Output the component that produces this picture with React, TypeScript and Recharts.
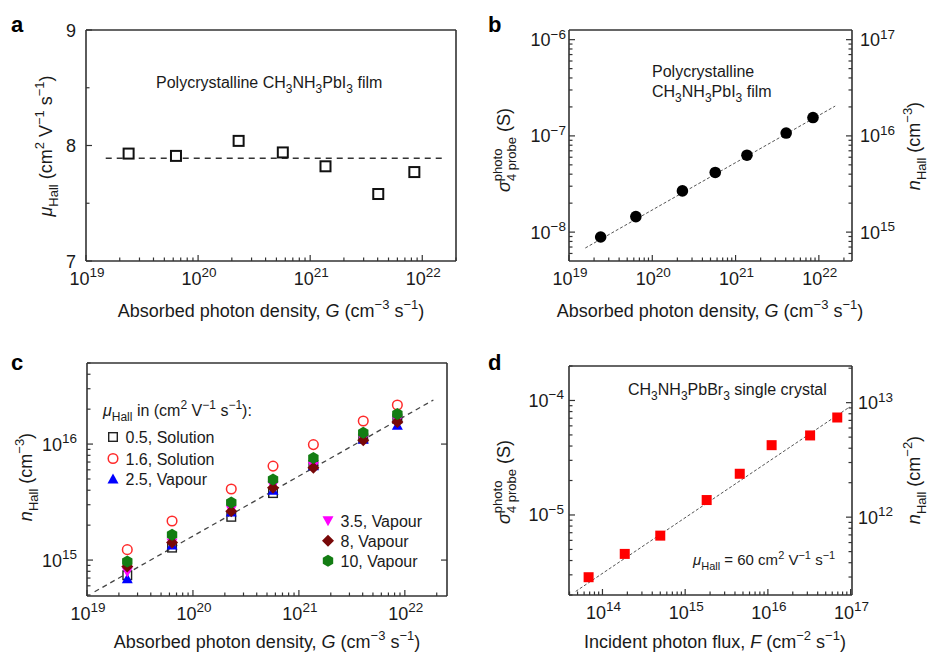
import React from 'react';
import { ScatterChart, Scatter, XAxis, YAxis, ReferenceLine } from 'recharts';

const FONT = '"Liberation Sans", Arial, Helvetica, sans-serif';
const INK = '#1a1a1a';
const FRAME = '#333';

// absorbed photon density G (cm^-3 s^-1), same excitation steps in a, b, c
const G = [2.4e19, 6.35e19, 2.3e20, 5.7e20, 1.37e21, 4.05e21, 8.5e21];

// a: Hall mobility of the film
const muHall = [7.93, 7.91, 8.04, 7.94, 7.82, 7.58, 7.77];
const muFitG = [1.5e19, 1.55e22];
const muFit = 7.89;

// b: four-probe photoconductivity of the film
const sigmaFilm = [8.9e-9, 1.45e-8, 2.68e-8, 4.17e-8, 6.3e-8, 1.07e-7, 1.55e-7];
const sigmaFitG = [1.57e19, 1.57e22];
const sigmaFit = [6.84e-9, 2.04e-7];

// c: Hall carrier density for the six films
const n05 = [7.4e14, 1.28e15, 2.36e15, 3.78e15, 6.6e15, 1.12e16, 1.66e16];
const n16 = [1.23e15, 2.17e15, 4.1e15, 6.46e15, 9.9e15, 1.58e16, 2.17e16];
const n25 = [6.9e14, 1.35e15, 2.6e15, 4.0e15, 6.5e15, 1.1e16, 1.45e16];
const n35 = [7.9e14, 1.4e15, 2.7e15, 4.35e15, 6.4e15, 1.1e16, 1.6e16];
const n8 = [8.8e14, 1.42e15, 2.63e15, 4.2e15, 6.25e15, 1.08e16, 1.55e16];
const n10 = [9.7e14, 1.65e15, 3.14e15, 4.96e15, 7.6e15, 1.25e16, 1.82e16];
const nFitG = [1.18e19, 1.86e22];
const nFit = [5.33e14, 2.4e16];
const legendC = ['0.5, Solution', '1.6, Solution', '2.5, Vapour', '3.5, Vapour', '8, Vapour', '10, Vapour'];

// d: single crystal vs incident photon flux F (cm^-2 s^-1)
const F = [6.8e13, 1.86e14, 5.0e14, 1.82e15, 4.57e15, 1.11e16, 3.24e16, 6.9e16];
const sigmaCrystal = [2.86e-6, 4.57e-6, 6.6e-6, 1.35e-5, 2.29e-5, 4.07e-5, 4.95e-5, 7.1e-5];
const crystalFitF = [4.75e13, 9.8e16];
const crystalFit = [2.15e-6, 8.8e-5];

// axis ranges
const A_X: [number, number] = [1e19, 2e22];
const A_Y: [number, number] = [7, 9];
const A_YTICKS = [7, 7.5, 8, 8.5, 9];
const B_X: [number, number] = [1e19, 2.5e22];
const B_Y: [number, number] = [5.01e-9, 1.26e-6];
const B_R: [number, number] = [5.01e14, 1.26e17];
const C_X: [number, number] = [1e19, 2.5e22];
const C_Y: [number, number] = [4.9e14, 5.0e16];
const C_RTICKS = [1e15, 1e16];
const D_X: [number, number] = [3.94e13, 1.04e17];
const D_Y: [number, number] = [2.0e-6, 2.0e-4];
const D_R: [number, number] = [2.09e11, 2.09e13];

function logTicks([lo, hi]: [number, number]) {
  const out: number[] = [];
  for (let e = Math.floor(Math.log10(lo)); e <= Math.ceil(Math.log10(hi)); e++) {
    for (let m = 1; m < 10; m++) {
      const v = m * Math.pow(10, e);
      if (v >= lo * 0.999 && v <= hi * 1.001) out.push(v);
    }
  }
  return out;
}

const isDecade = (v: number) => Math.abs(Math.log10(v) - Math.round(Math.log10(v))) < 1e-6;

type Part = { t: string; k?: 'sub' | 'sup'; i?: boolean; dx?: number };

function rich(parts: Part[], size = 16, small = Math.round(size * 0.72)) {
  let cur = 0;
  return parts.map((p, idx) => {
    const target = p.k === 'sub' ? size * 0.32 : p.k === 'sup' ? -size * 0.42 : 0;
    const dy = target - cur;
    cur = target;
    return (
      <tspan key={idx} dy={dy || undefined} dx={p.dx} fontSize={p.k ? small : size}
        fontStyle={p.i ? 'italic' : undefined}>{p.t}</tspan>
    );
  });
}

function Txt({ x, y, parts, size = 16, small, anchor = 'start', rotate = false }: any) {
  return (
    <text x={rotate ? 0 : x} y={rotate ? 0 : y}
      transform={rotate ? `translate(${x},${y}) rotate(-90)` : undefined}
      textAnchor={anchor} fontFamily={FONT} fill={INK} fontSize={size}
      style={{ whiteSpace: 'pre' }}>
      {rich(parts, size, small)}
    </text>
  );
}

const pow10 = (v: number): Part[] => {
  const e = Math.round(Math.log10(v));
  return [{ t: '10' }, { t: e < 0 ? '\u2212' + Math.abs(e) : String(e), k: 'sup' }];
};

function AxisTick({ x, y, payload, side, gap = 8, major = isDecade, label = pow10, noLabel }: any) {
  const v = payload.value;
  const big = major(v);
  const len = big ? 6 : 3.5;
  let line;
  let txt = null;
  if (side === 'bottom') {
    line = <line x1={x} y1={y} x2={x} y2={y - len} stroke={FRAME} strokeWidth={1.2} />;
    if (big && !noLabel) txt = <Txt x={x + 1} y={y + 24} parts={label(v)} size={18} small={13.5} anchor="middle" />;
  } else if (side === 'left') {
    line = <line x1={x} y1={y} x2={x + len} y2={y} stroke={FRAME} strokeWidth={1.2} />;
    if (big && !noLabel) txt = <Txt x={x - gap} y={y + 6.5} parts={label(v)} size={18} small={13.5} anchor="end" />;
  } else {
    line = <line x1={x} y1={y} x2={x - len} y2={y} stroke={FRAME} strokeWidth={1.2} />;
    if (big && !noLabel) txt = <Txt x={x + gap} y={y + 6.5} parts={label(v)} size={18} small={13.5} anchor="start" />;
  }
  return <g>{line}{txt}</g>;
}

function marker(kind: string, cx: number, cy: number) {
  switch (kind) {
    case 'sqA':
      return <rect x={cx - 5} y={cy - 5} width={10} height={10} fill="#fff" stroke="#111" strokeWidth={2} />;
    case 'dotB':
      return <circle cx={cx} cy={cy} r={5.8} fill="#000" />;
    case 'sqC':
      return <rect x={cx - 4.3} y={cy - 4.3} width={8.6} height={8.6} fill="none" stroke="#222" strokeWidth={1.4} />;
    case 'circC':
      return <circle cx={cx} cy={cy} r={4.8} fill="none" stroke="#ff2a2a" strokeWidth={1.5} />;
    case 'triUp':
      return <polygon points={`${cx},${cy - 5.5} ${cx + 5.5},${cy + 4.5} ${cx - 5.5},${cy + 4.5}`} fill="#0000ff" />;
    case 'triDown':
      return <polygon points={`${cx - 5.5},${cy - 4.5} ${cx + 5.5},${cy - 4.5} ${cx},${cy + 5.5}`} fill="#ff00ff" />;
    case 'diamond':
      return <polygon points={`${cx},${cy - 6} ${cx + 6},${cy} ${cx},${cy + 6} ${cx - 6},${cy}`} fill="#780808" />;
    case 'hex': {
      const pts = [0, 1, 2, 3, 4, 5].map((k) => {
        const a = Math.PI / 2 + (k * Math.PI) / 3;
        return `${cx + 6 * Math.cos(a)},${cy - 6 * Math.sin(a)}`;
      });
      return <polygon points={pts.join(' ')} fill="#137d13" />;
    }
    case 'sqD':
      return <rect x={cx - 5} y={cy - 5} width={10} height={10} fill="#ff0000" />;
    default:
      return <circle cx={cx} cy={cy} r={3} />;
  }
}

const shapeOf = (kind: string) => (p: any) => marker(kind, p.cx, p.cy);
const frame = { stroke: FRAME, strokeWidth: 1.6 };
const NOM = { top: 0, right: 0, bottom: 0, left: 0 };

const unitsG: Part[] = [{ t: 'Absorbed photon density, ' }, { t: 'G', i: true }, { t: ' (cm' }, { t: '\u22123', k: 'sup' }, { t: ' s' }, { t: '\u22121', k: 'sup' }, { t: ')' }];
const muAxis: Part[] = [{ t: 'μ', i: true }, { t: 'Hall', k: 'sub' }, { t: ' (cm' }, { t: '2', k: 'sup' }, { t: ' V' }, { t: '\u22121', k: 'sup' }, { t: ' s' }, { t: '\u22121', k: 'sup' }, { t: ')' }];
const filmLabel: Part[] = [{ t: 'Polycrystalline CH' }, { t: '3', k: 'sub' }, { t: 'NH' }, { t: '3', k: 'sub' }, { t: 'PbI' }, { t: '3', k: 'sub' }, { t: ' film' }];
const filmLabel2: Part[] = [{ t: 'CH' }, { t: '3', k: 'sub' }, { t: 'NH' }, { t: '3', k: 'sub' }, { t: 'PbI' }, { t: '3', k: 'sub' }, { t: ' film' }];
const sigmaAxis: Part[] = [{ t: 'σ', i: true }, { t: 'photo', k: 'sup' }, { t: '4 probe', k: 'sub', dx: -32.5 }, { t: ' (S)' }];
const nAxis3: Part[] = [{ t: 'n', i: true }, { t: 'Hall', k: 'sub' }, { t: ' (cm' }, { t: '\u22123', k: 'sup' }, { t: ')' }];
const nAxis2: Part[] = [{ t: 'n', i: true }, { t: 'Hall', k: 'sub' }, { t: ' (cm' }, { t: '\u22122', k: 'sup' }, { t: ')' }];
const fluxAxis: Part[] = [{ t: 'Incident photon flux, ' }, { t: 'F', i: true }, { t: ' (cm' }, { t: '\u22122', k: 'sup' }, { t: ' s' }, { t: '\u22121', k: 'sup' }, { t: ')' }];
const crystalLabel: Part[] = [{ t: 'CH' }, { t: '3', k: 'sub' }, { t: 'NH' }, { t: '3', k: 'sub' }, { t: 'PbBr' }, { t: '3', k: 'sub' }, { t: ' single crystal' }];
const mu60: Part[] = [{ t: 'μ', i: true }, { t: 'Hall', k: 'sub' }, { t: ' = 60 cm' }, { t: '2', k: 'sup' }, { t: ' V' }, { t: '\u22121', k: 'sup' }, { t: ' s' }, { t: '\u22121', k: 'sup' }];
const legendTitle: Part[] = [{ t: 'μ', i: true }, { t: 'Hall', k: 'sub' }, { t: ' in (cm' }, { t: '2', k: 'sup' }, { t: ' V' }, { t: '\u22121', k: 'sup' }, { t: ' s' }, { t: '\u22121', k: 'sup' }, { t: '):' }];

function Letter({ x, y, t }: any) {
  return <text x={x} y={y} fontFamily={FONT} fontWeight="bold" fontSize={22} fill="#000">{t}</text>;
}

// plot box inside a 464x328 panel: left, right, top, bottom edges
function Axes({ box, xDom, yDom, rDom, xTicks, yTicks, rTicks, yTick, rTick }: any) {
  const [l, r, t, b] = box;
  return [
    <XAxis key="xb" xAxisId="b" type="number" dataKey="x" scale="log" domain={xDom} allowDataOverflow
      ticks={xTicks} interval={0} tickSize={0} tickMargin={0} tickLine={false}
      tick={(p: any) => <AxisTick {...p} side="bottom" />} axisLine={frame} height={328 - b} />,
    <XAxis key="xt" xAxisId="t" orientation="top" type="number" scale="log" domain={xDom} allowDataOverflow
      tick={false} tickLine={false} axisLine={frame} height={t} />,
    <YAxis key="yl" yAxisId="l" type="number" dataKey="y" scale={yTick.linear ? 'linear' : 'log'} domain={yDom}
      allowDataOverflow ticks={yTicks} interval={0} tickSize={0} tickMargin={0} tickLine={false}
      axisLine={frame} width={l} tick={(p: any) => <AxisTick {...p} side="left" {...yTick} />} />,
    <YAxis key="yr" yAxisId="r" orientation="right" type="number" scale={yTick.linear ? 'linear' : 'log'}
      domain={rDom} allowDataOverflow ticks={rTicks} interval={0} tickSize={0} tickMargin={0} tickLine={false}
      axisLine={frame} width={464 - r}
      tick={rTicks ? (p: any) => <AxisTick {...p} side="right" {...rTick} /> : false} />,
  ];
}

function PanelA() {
  const pts = G.map((x, i) => ({ x, y: muHall[i] }));
  return (
    <ScatterChart width={464} height={328} margin={NOM}>
      {Axes({
        box: [86, 456, 30, 261], xDom: A_X, yDom: A_Y, rDom: A_Y, xTicks: logTicks(A_X), yTicks: A_YTICKS,
        yTick: { gap: 10, linear: true, major: (v: number) => Number.isInteger(v), label: (v: number) => [{ t: String(v) }] },
      })}
      <ReferenceLine xAxisId="b" yAxisId="l" ifOverflow="visible"
        segment={[{ x: muFitG[0], y: muFit }, { x: muFitG[1], y: muFit }]}
        stroke="#333" strokeWidth={1.4} strokeDasharray="6 5" />
      <Scatter xAxisId="b" yAxisId="l" data={pts} shape={shapeOf('sqA')} isAnimationActive={false} />
      <Letter x={11} y={32} t="a" />
      <Txt x={156} y={88} parts={filmLabel} />
      <Txt x={271} y={317} parts={unitsG} size={18} anchor="middle" />
      <Txt x={52} y={146} parts={muAxis} size={18} anchor="middle" rotate />
    </ScatterChart>
  );
}

function PanelB() {
  const pts = G.map((x, i) => ({ x, y: sigmaFilm[i] }));
  return (
    <ScatterChart width={464} height={328} margin={NOM}>
      {Axes({
        box: [105, 388, 30, 261], xDom: B_X, yDom: B_Y, rDom: B_R, xTicks: logTicks(B_X),
        yTicks: logTicks(B_Y), rTicks: logTicks(B_R), yTick: { gap: 3 }, rTick: { gap: 8 },
      })}
      <ReferenceLine xAxisId="b" yAxisId="l" ifOverflow="visible"
        segment={[{ x: sigmaFitG[0], y: sigmaFit[0] }, { x: sigmaFitG[1], y: sigmaFit[1] }]}
        stroke="#555" strokeWidth={1} strokeDasharray="3 2" />
      <Scatter xAxisId="b" yAxisId="l" data={pts} shape={shapeOf('dotB')} isAnimationActive={false} />
      <Letter x={24} y={32} t="b" />
      <Txt x={188} y={77} parts={[{ t: 'Polycrystalline' }]} />
      <Txt x={188} y={97} parts={filmLabel2} />
      <Txt x={246} y={317} parts={unitsG} size={18} anchor="middle" />
      <Txt x={46} y={150} parts={sigmaAxis} size={18} anchor="middle" rotate />
      <Txt x={456} y={146} parts={nAxis3} size={18} anchor="middle" rotate />
    </ScatterChart>
  );
}

const cSeries = [
  { vals: n05, kind: 'sqC' },
  { vals: n16, kind: 'circC' },
  { vals: n25, kind: 'triUp' },
  { vals: n35, kind: 'triDown' },
  { vals: n8, kind: 'diamond' },
  { vals: n10, kind: 'hex' },
];

function PanelC() {
  const legPos = [
    [113, 109], [113, 130.5], [113, 151],
    [328, 192.7], [328, 212.7], [328, 232.7],
  ];
  return (
    <ScatterChart width={464} height={328} margin={NOM}>
      {Axes({
        box: [87, 447, 35, 268], xDom: C_X, yDom: C_Y, rDom: C_Y, xTicks: logTicks(C_X),
        yTicks: logTicks(C_Y), rTicks: C_RTICKS, yTick: { gap: 10 }, rTick: { noLabel: true },
      })}
      <ReferenceLine xAxisId="b" yAxisId="l" ifOverflow="visible"
        segment={[{ x: nFitG[0], y: nFit[0] }, { x: nFitG[1], y: nFit[1] }]}
        stroke="#444" strokeWidth={1.3} strokeDasharray="5 4" />
      {cSeries.map((s) => (
        <Scatter key={s.kind} xAxisId="b" yAxisId="l" data={G.map((x, i) => ({ x, y: s.vals[i] }))}
          shape={shapeOf(s.kind)} isAnimationActive={false} />
      ))}
      <Letter x={11} y={42} t="c" />
      <Txt x={103} y={88} parts={legendTitle} />
      {cSeries.map((s, i) => (
        <g key={'leg' + i}>
          {marker(s.kind, legPos[i][0], legPos[i][1])}
          <Txt x={legPos[i][0] + 12.5} y={legPos[i][1] + 6} parts={[{ t: legendC[i] }]} />
        </g>
      ))}
      <Txt x={267} y={320} parts={unitsG} size={18} anchor="middle" />
      <Txt x={32} y={149} parts={nAxis3} size={18} anchor="middle" rotate />
    </ScatterChart>
  );
}

function PanelD() {
  const pts = F.map((x, i) => ({ x, y: sigmaCrystal[i] }));
  return (
    <ScatterChart width={464} height={328} margin={NOM}>
      {Axes({
        box: [105, 388, 38, 267], xDom: D_X, yDom: D_Y, rDom: D_R, xTicks: logTicks(D_X),
        yTicks: logTicks(D_Y), rTicks: logTicks(D_R), yTick: { gap: 5 }, rTick: { gap: 6 },
      })}
      <ReferenceLine xAxisId="b" yAxisId="l" ifOverflow="visible"
        segment={[{ x: crystalFitF[0], y: crystalFit[0] }, { x: crystalFitF[1], y: crystalFit[1] }]}
        stroke="#555" strokeWidth={1} strokeDasharray="3 2" />
      <Scatter xAxisId="b" yAxisId="l" data={pts} shape={shapeOf('sqD')} isAnimationActive={false} />
      <Letter x={24} y={42} t="d" />
      <Txt x={164} y={67} parts={crystalLabel} />
      <Txt x={229} y={237} parts={mu60} size={15} />
      <Txt x={251} y={320} parts={fluxAxis} size={18} anchor="middle" />
      <Txt x={46} y={154} parts={sigmaAxis} size={18} anchor="middle" rotate />
      <Txt x={456} y={152} parts={nAxis2} size={18} anchor="middle" rotate />
    </ScatterChart>
  );
}

export default function App() {
  return (
    <div style={{ position: 'absolute', left: 0, top: 0, width: 928, height: 656, background: '#fff', overflow: 'hidden' }}>
      <div style={{ position: 'absolute', left: 0, top: 0 }}><PanelA /></div>
      <div style={{ position: 'absolute', left: 464, top: 0 }}><PanelB /></div>
      <div style={{ position: 'absolute', left: 0, top: 328 }}><PanelC /></div>
      <div style={{ position: 'absolute', left: 464, top: 328 }}><PanelD /></div>
    </div>
  );
}
